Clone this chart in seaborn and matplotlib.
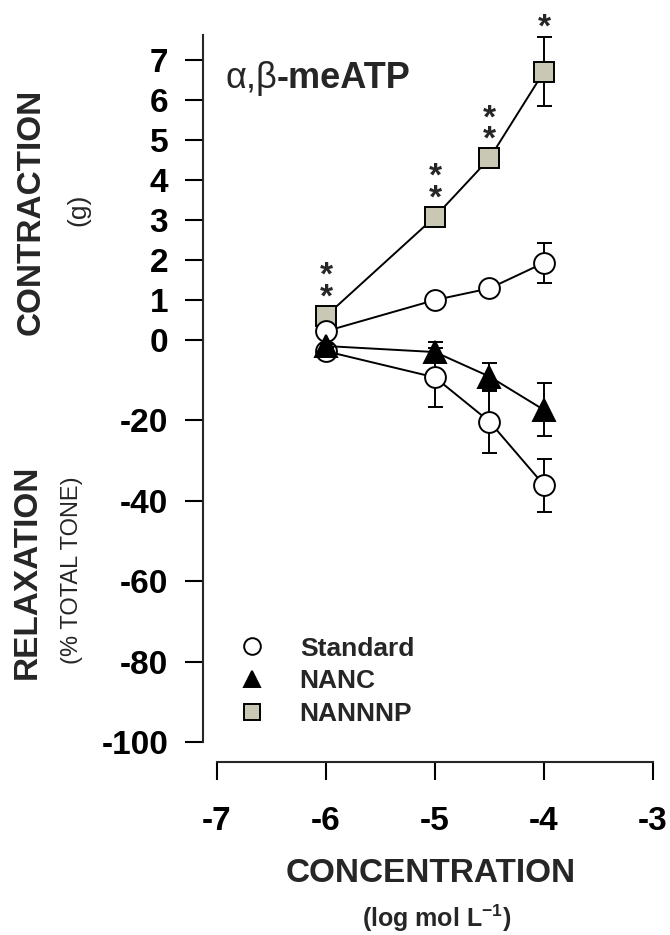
import matplotlib
matplotlib.use("Agg")
import matplotlib.pyplot as plt
import seaborn as sns
import pandas as pd
from matplotlib.lines import Line2D

# ---------------- data ----------------
conc = [-6, -5, -4.5, -4]
std_contraction = [0.22, 1.0, 1.29, 1.93]
std_contraction_sem = [0.1, 0.1, 0.1, 0.5]
nannnp_contraction = [0.6, 3.08, 4.54, 6.71]
nannnp_contraction_sem = [0.15, 0.15, 0.15, 0.86]
std_relaxation = [-2.8, -9.3, -20.3, -36.1]
std_relaxation_sem = [1.0, 7.3, 7.7, 6.6]
nanc_relaxation = [-1.5, -3.0, -9.1, -17.4]
nanc_relaxation_sem = [0.5, 2.5, 3.3, 6.6]
stars = ["*\n*", "*\n*", "*\n*", "*"]  # significance marks above NANNNP points

x_ticks = [-7, -6, -5, -4, -3]
contraction_ticks = [0, 1, 2, 3, 4, 5, 6, 7]
relaxation_ticks = [-100, -80, -60, -40, -20]
legend_labels = ["Standard", "NANC", "NANNNP"]

# ---------------- style ----------------
sns.set_theme(style="ticks")
plt.rcParams["font.family"] = ["Liberation Sans", "DejaVu Sans"]
plt.rcParams["mathtext.fontset"] = "custom"
plt.rcParams["mathtext.rm"] = "Liberation Sans:bold"
plt.rcParams["mathtext.bf"] = "Liberation Sans:bold"
plt.rcParams["axes.linewidth"] = 1.5
plt.rcParams["axes.unicode_minus"] = False

W, H = 670, 935
fig = plt.figure(figsize=(W / 100, H / 100), dpi=100)

def px(x, y):
    return x / W, 1 - y / H

L, R = 203 / W, 653 / W
ax_top = fig.add_axes([L, 1 - 340 / H, R - L, 305 / H])
ax_bot = fig.add_axes([L, 1 - 742 / H, R - L, 402 / H])
for ax in (ax_top, ax_bot):
    ax.set_facecolor("none")
    ax.set_xlim(-7.128, -3.0)

ax_top.set_ylim(0, 7.625)
ax_bot.set_ylim(-100, 0)

SQ_COLOR = "#c8c8b4"
LW = 1.4

def draw(ax, y, sem, marker, face, ms, z):
    df = pd.DataFrame({"conc": conc, "val": y})
    ax.errorbar(conc, y, yerr=sem, fmt="none", ecolor="black", elinewidth=LW,
                capsize=5.4, capthick=LW, zorder=z - 0.5, clip_on=False)
    sns.lineplot(data=df, x="conc", y="val", ax=ax, color="black", linewidth=LW,
                 marker=marker, markersize=ms, markerfacecolor=face,
                 markeredgecolor="black", markeredgewidth=LW, zorder=z,
                 errorbar=None, legend=False, clip_on=False)

draw(ax_top, nannnp_contraction, nannnp_contraction_sem, "s", SQ_COLOR, 14, 3)
draw(ax_top, std_contraction, std_contraction_sem, "o", "white", 15, 4)
draw(ax_bot, std_relaxation, std_relaxation_sem, "o", "white", 15, 4)
draw(ax_bot, nanc_relaxation, nanc_relaxation_sem, "^", "black", 16, 5)

for ax in (ax_top, ax_bot):
    for ln in ax.get_lines():
        ln.set_clip_on(False)

# significance stars (baseline offset in points above mean + SEM)
STAR_PT = 24
for xv, yv, sv, st in zip(conc, nannnp_contraction, nannnp_contraction_sem, stars):
    lower_px = 19.5 if len(st) == 1 else 23
    ax_top.annotate(st, xy=(xv, yv + sv), xytext=(0, lower_px * 0.72 - 0.58 * STAR_PT),
                    textcoords="offset points", ha="center", va="baseline",
                    fontsize=STAR_PT, fontweight="bold", linespacing=0.61,
                    annotation_clip=False)

# axes styling
ax_top.spines[["top", "right", "bottom"]].set_visible(False)
ax_top.tick_params(axis="x", which="both", bottom=False, labelbottom=False)
ax_top.set_yticks(contraction_ticks)
ax_bot.spines[["top", "right"]].set_visible(False)
ax_bot.spines["bottom"].set_position(("outward", 14.4))
ax_bot.spines["bottom"].set_bounds(-7, -3)
ax_bot.set_xticks(x_ticks)
ax_bot.set_yticks(relaxation_ticks)
for ax in (ax_top, ax_bot):
    ax.tick_params(direction="out", length=13, width=1.5, labelsize=24, pad=12,
                   colors="black")
    ax.set_xlabel("")
    ax.set_ylabel("")
    for lab in ax.get_yticklabels() + ax.get_xticklabels():
        lab.set_fontweight("bold")
ax_bot.tick_params(axis="x", pad=18.5)

# legend
handles = [
    Line2D([], [], ls="none", marker="o", ms=12, mfc="white", mec="black", mew=LW),
    Line2D([], [], ls="none", marker="^", ms=12, mfc="black", mec="black", mew=LW),
    Line2D([], [], ls="none", marker="s", ms=11, mfc=SQ_COLOR, mec="black", mew=LW),
]
ax_bot.legend(handles, legend_labels, loc="upper left", bbox_to_anchor=(0.083, 0.262),
              frameon=False, borderaxespad=0, borderpad=0, handlelength=0.9,
              handletextpad=1.35, labelspacing=0.33,
              prop={"family": "Liberation Sans", "weight": "bold", "size": 19})

# texts
t1 = fig.text(*px(225, 88), "α,β", fontsize=26, ha="left", va="baseline")
ax_top.annotate("-meATP", xy=(1, 0), xycoords=t1, fontsize=26, fontweight="bold",
                ha="left", va="bottom")
fig.text(*px(31, 212), "CONTRACTION", fontsize=24, fontweight="bold", rotation=90,
         ha="center", va="center")
fig.text(*px(78, 210), "(g)", fontsize=19, rotation=90, ha="center", va="center")
fig.text(*px(27.5, 572), "RELAXATION", fontsize=24, fontweight="bold", rotation=90,
         ha="center", va="center")
fig.text(*px(72, 570), "(% TOTAL TONE)", fontsize=17, rotation=90, ha="center", va="center")
fig.text(*px(430.5, 873), "CONCENTRATION", fontsize=24, fontweight="bold",
         ha="center", va="center")
fig.text(*px(437, 918), r"(log mol L$^{-1}$)", fontsize=18, fontweight="bold",
         ha="center", va="center")

fig.savefig("out.png", dpi=100)
